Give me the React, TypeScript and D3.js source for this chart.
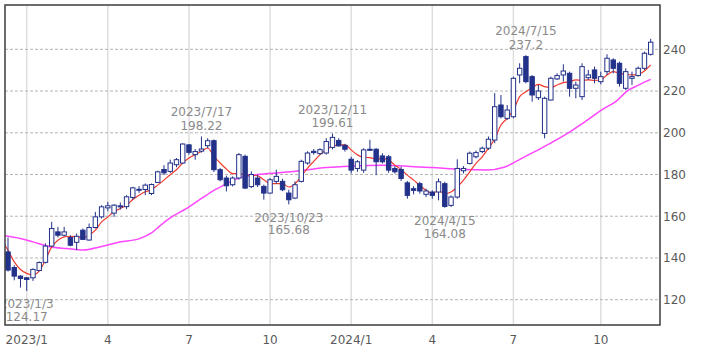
import React from 'react';
import * as d3 from 'd3';

// weekly candles, index 0 = week of 2022/12/12 (one candle per week up to 2024/12/2)
const opens = [
  142.9, 135.4, 131.3, 130.5, 130.5, 134.0, 137.9, 145.7, 152.5, 150.9,
  149.8, 147.5, 153.3, 148.6, 154.6, 159.7, 164.0, 161.5, 164.5, 164.6,
  169.0, 172.6, 172.8, 170.9, 176.2, 182.4, 181.5, 184.7, 185.5, 194.2,
  189.5, 191.2, 193.8, 196.2, 182.3, 178.3, 175.1, 178.3, 188.7, 174.2,
  178.3, 174.3, 171.1, 176.7, 176.7, 171.1, 168.7, 176.7, 185.5, 191.1,
  190.0, 190.3, 193.0, 196.3, 194.0, 187.3, 182.9, 182.1, 192.1, 192.1,
  188.9, 188.5, 182.9, 182.4, 176.0, 173.2, 175.6, 170.5, 171.6, 171.6,
  175.6, 165.2, 169.2, 181.8, 185.3, 188.5, 191.0, 192.6, 196.5, 213.3,
  206.9, 207.7, 227.7, 236.5, 226.9, 216.8, 199.7, 215.7, 225.8, 227.7,
  228.5, 221.3, 217.3, 226.4, 230.1, 224.5, 229.3, 234.9, 233.3, 221.3,
  226.1, 227.4, 230.9, 237.6,
];
const highs = [
  149.8, 136.5, 131.8, 130.8, 135.0, 138.3, 147.0, 157.3, 154.9, 154.9,
  150.9, 151.7, 154.1, 156.5, 162.1, 165.3, 166.9, 165.8, 166.6, 170.1,
  174.1, 174.4, 175.7, 175.7, 181.8, 184.5, 187.1, 187.9, 195.0, 194.6,
  192.2, 198.22, 197.4, 196.8, 183.1, 179.4, 179.1, 190.3, 189.5, 181.5,
  179.9, 175.1, 178.3, 182.3, 178.0, 172.7, 176.7, 187.1, 191.1, 192.2,
  192.6, 197.4, 199.61, 197.4, 194.7, 188.5, 186.9, 192.6, 196.6, 192.6,
  190.2, 189.4, 184.0, 183.7, 176.9, 174.4, 176.5, 173.2, 172.4, 178.1,
  176.5, 170.0, 187.3, 184.0, 191.0, 191.5, 193.4, 198.2, 219.0, 218.1,
  213.3, 226.9, 233.3, 237.2, 227.7, 222.9, 217.3, 226.9, 228.5, 232.8,
  229.3, 224.5, 233.3, 230.1, 231.7, 229.3, 237.6, 235.7, 234.1, 230.9,
  229.3, 231.7, 238.9, 245.0,
];
const lows = [
  133.5, 129.3, 125.8, 124.17, 129.0, 133.6, 137.4, 145.4, 149.8, 150.4,
  145.6, 143.8, 148.6, 148.3, 154.1, 158.9, 162.4, 159.7, 163.2, 163.4,
  167.9, 171.2, 170.1, 170.1, 176.0, 179.7, 180.7, 183.5, 185.1, 189.5,
  187.1, 190.5, 192.6, 181.2, 176.7, 171.9, 174.3, 177.5, 173.0, 173.5,
  174.0, 167.9, 170.8, 175.6, 172.0, 165.68, 168.2, 176.2, 184.7, 189.5,
  189.5, 189.5, 192.0, 193.4, 191.0, 180.5, 181.3, 180.8, 191.3, 179.7,
  185.3, 180.8, 180.5, 176.9, 168.4, 170.5, 170.8, 169.2, 168.4, 167.6,
  164.08, 164.4, 168.4, 180.5, 184.8, 187.7, 190.2, 191.8, 195.0, 206.9,
  206.1, 206.9, 223.7, 223.7, 214.9, 215.7, 197.3, 215.4, 225.3, 224.5,
  217.3, 216.5, 215.7, 225.3, 223.7, 223.2, 227.7, 228.5, 222.1, 220.5,
  222.9, 226.9, 230.1, 237.0,
];
const closes = [
  134.2, 131.3, 130.2, 129.7, 134.5, 137.8, 145.7, 154.1, 150.9, 152.5,
  146.1, 150.4, 148.9, 154.6, 159.7, 164.5, 165.0, 165.3, 165.0, 169.3,
  173.6, 172.9, 174.9, 175.2, 181.3, 180.8, 185.5, 187.1, 194.6, 190.6,
  191.0, 192.2, 196.2, 182.3, 177.5, 174.6, 178.3, 189.5, 173.5, 180.0,
  175.1, 171.1, 177.5, 179.1, 172.7, 167.9, 175.1, 186.3, 190.3, 190.5,
  191.9, 195.8, 197.8, 193.7, 192.1, 182.1, 186.1, 191.8, 191.6, 186.1,
  186.1, 182.1, 181.3, 178.1, 170.0, 172.4, 172.1, 172.1, 170.0, 176.5,
  164.7, 169.2, 182.9, 182.9, 190.2, 190.5, 192.6, 196.9, 212.5, 207.7,
  210.9, 226.1, 230.9, 224.5, 218.1, 220.0, 216.5, 226.1, 227.4, 229.6,
  221.3, 222.9, 231.7, 227.7, 226.1, 226.9, 235.7, 230.9, 223.7, 229.3,
  226.9, 230.9, 238.1, 243.4,
];

// short moving average (red), one value per week starting at week -1
const maShort = [
  148.5,
  143.7, 138.1, 134.5, 132.6, 131.8, 133.8, 139.0, 145.3, 148.5, 150.1,
  150.4, 150.1, 149.8, 150.9, 153.3, 157.3, 159.7, 162.1, 163.7, 165.3,
  168.0, 170.1, 171.7, 172.8, 174.9, 177.3, 179.9, 182.3, 185.5, 187.9,
  189.5, 191.1, 192.7, 188.7, 185.5, 182.6, 180.4, 180.4, 179.9, 179.6,
  179.4, 177.5, 175.6, 175.6, 175.6, 174.0, 175.6, 179.1, 183.1, 186.3,
  189.5, 191.9, 193.5, 194.2, 194.2, 191.8, 189.4, 188.2, 188.1, 187.3,
  187.7, 186.9, 184.5, 182.4, 179.7, 177.3, 174.8, 172.4, 171.1, 172.1,
  170.8, 171.6, 174.0, 177.3, 181.3, 185.3, 188.5, 192.6, 197.0, 203.7,
  206.9, 210.9, 217.3, 219.7, 221.6, 223.2, 222.1, 221.6, 222.9, 224.0,
  224.5, 225.3, 225.1, 225.3, 225.1, 225.3, 227.7, 229.3, 228.5, 228.0,
  227.7, 228.0, 229.6, 232.5,
];

// long moving average (magenta), read at [week, value]
const maLong: [number, number][] = [
  [-1.3, 151.0], [2, 149.3], [4, 147.7], [6.7, 145.4], [9.4, 144.5],
  [12.1, 143.8], [14.7, 145.3], [17.9, 147.6], [21.2, 149.4], [23, 152.0],
  [24.4, 155.5], [26, 159.2], [28.5, 163.5], [31, 168.5], [33, 172.4],
  [35, 175.5], [37.2, 178.5], [40.4, 180.1], [45.7, 181.4], [51, 183.3],
  [55, 184.0], [60, 184.4], [64, 184.0], [68, 183.3], [73, 182.4],
  [77, 182.2], [79.5, 183.5], [83, 188.8], [86, 193.5], [89.8, 200.0],
  [92.7, 205.8], [95.4, 211.5], [97.5, 215.2], [99.2, 220.0], [101, 222.8],
  [103, 225.6],
];

const tickWeeks = [3, 16, 29, 42, 55, 68, 81, 95];
const tickLabels = ['2023/1', '4', '7', '10', '2024/1', '4', '7', '10'];
const priceTicks = [120, 140, 160, 180, 200, 220, 240];

const notes = [
  { week: 3, date: '2023/1/3', value: '124.17', side: 'low' },
  { week: 31, date: '2023/7/17', value: '198.22', side: 'high' },
  { week: 45, date: '2023/10/23', value: '165.68', side: 'low' },
  { week: 52, date: '2023/12/11', value: '199.61', side: 'high' },
  { week: 70, date: '2024/4/15', value: '164.08', side: 'low' },
  { week: 83, date: '2024/7/15', value: '237.2', side: 'high' },
];

const W = 709;
const H = 354;
const box = { left: 5, top: 5, right: 660, bottom: 325 };
const navy = '#22318a';
const font = '"DejaVu Sans", Verdana, sans-serif';

export default function App() {
  const x = d3.scaleLinear().domain([0, 103]).range([8, 650.7]);
  const y = d3.scaleLinear().domain([120, 240]).range([299.7, 49.3]);

  const redLine = d3
    .line<number>()
    .x((_, i) => x(i - 1))
    .y(d => y(d))
    .curve(d3.curveMonotoneX)(maShort);

  const pinkLine = d3
    .line<[number, number]>()
    .x(d => x(d[0]))
    .y(d => y(d[1]))
    .curve(d3.curveMonotoneX)(maLong);

  const bodyW = 4.4;

  return (
    <svg
      width={W}
      height={H}
      style={{ position: 'absolute', left: 0, top: 0, background: '#fff' }}
      fontFamily={font}
    >
      <defs>
        <clipPath id="plotClip">
          <rect x={box.left} y={box.top} width={box.right - box.left} height={box.bottom - box.top} />
        </clipPath>
      </defs>

      {/* vertical grid */}
      {tickWeeks.map(w => (
        <line key={'v' + w} x1={x(w)} x2={x(w)} y1={box.top} y2={box.bottom} stroke="#dedede" strokeWidth={1.5} />
      ))}
      {/* horizontal grid */}
      {priceTicks.map(p => (
        <line
          key={'h' + p}
          x1={box.left}
          x2={box.right}
          y1={y(p)}
          y2={y(p)}
          stroke="#b4b4b4"
          strokeDasharray="3,2"
        />
      ))}

      <g clipPath="url(#plotClip)">
        <path d={pinkLine || ''} fill="none" stroke="#ff45ff" strokeWidth={1.5} />
        <path d={redLine || ''} fill="none" stroke="#f03a2e" strokeWidth={1.2} />

        {closes.map((c, i) => {
          const o = opens[i];
          const up = c >= o;
          const top = y(Math.max(o, c));
          const bot = y(Math.min(o, c));
          return (
            <g key={'c' + i}>
              <line x1={x(i)} x2={x(i)} y1={y(highs[i])} y2={y(lows[i])} stroke={navy} strokeWidth={1} />
              <rect
                x={x(i) - bodyW / 2}
                y={top}
                width={bodyW}
                height={Math.max(bot - top, 1)}
                fill={up ? '#fff' : navy}
                stroke={navy}
                strokeWidth={1}
              />
            </g>
          );
        })}

        {notes.map(n => {
          const cx = x(n.week);
          const yy = n.side === 'high' ? y(highs[n.week]) : y(lows[n.week]);
          const b1 = n.side === 'high' ? yy - 20 : yy + 17.5;
          const b2 = n.side === 'high' ? yy - 6.5 : yy + 30;
          return (
            <g key={'n' + n.week} fill="#8a8a8a" fontSize={12} textAnchor="middle">
              <text x={cx} y={b1}>{n.date}</text>
              <text x={cx} y={b2}>{n.value}</text>
            </g>
          );
        })}
      </g>

      {/* frame */}
      <rect
        x={box.left}
        y={box.top}
        width={box.right - box.left}
        height={box.bottom - box.top}
        fill="none"
        stroke="#3c3c3c"
        strokeWidth={1.5}
      />

      {/* y labels */}
      {priceTicks.map(p => (
        <text key={'yl' + p} x={box.right + 3} y={y(p) + 4.3} fontSize={12} fill="#5a5a5a">
          {p}
        </text>
      ))}
      {/* x labels */}
      {tickWeeks.map((w, i) => (
        <text key={'xl' + w} x={x(w)} y={344} fontSize={12} fill="#5a5a5a" textAnchor="middle">
          {tickLabels[i]}
        </text>
      ))}
    </svg>
  );
}
